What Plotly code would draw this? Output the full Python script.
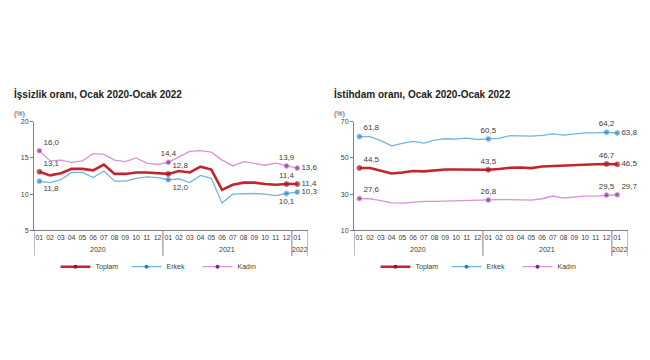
import plotly.graph_objects as go

months = ["01","02","03","04","05","06","07","08","09","10","11","12",
          "01","02","03","04","05","06","07","08","09","10","11","12","01"]
years = ["2020", "2021", "2022"]

# İşsizlik oranı
u_toplam = [13.1,12.6,12.9,13.5,13.5,13.3,14.1,12.8,12.8,13.0,13.0,12.9,
            12.8,13.2,13.0,13.8,13.4,10.6,11.3,11.6,11.6,11.4,11.3,11.4,11.4]
u_erkek = [11.8,11.6,12.0,13.0,13.0,12.3,13.2,11.8,11.8,12.2,12.4,12.3,
           12.0,12.1,11.6,12.6,12.2,8.8,10.0,10.1,10.1,10.0,9.8,10.1,10.3]
u_kadin = [16.0,14.6,14.7,14.4,14.6,15.6,15.5,14.7,14.5,15.0,14.3,14.1,
           14.4,15.2,15.9,16.0,15.8,14.7,13.9,14.5,14.2,14.0,14.3,13.9,13.6]

# İstihdam oranı
e_toplam = [44.5,44.5,43.0,41.4,42.0,42.8,42.6,43.3,43.6,43.6,43.6,43.3,
            43.5,43.9,44.6,44.7,44.4,45.3,45.6,45.8,46.1,46.3,46.5,46.7,46.5]
e_erkek = [61.8,61.8,59.6,56.7,58.0,59.2,58.2,59.9,60.6,60.4,61.0,60.2,
           60.5,60.8,62.3,62.0,62.0,62.5,63.3,62.6,63.2,63.8,63.9,64.2,63.8]
e_kadin = [27.6,27.5,26.5,25.2,25.1,25.7,26.0,26.1,26.3,26.3,26.6,26.7,
           26.8,27.0,27.0,27.0,26.7,27.5,29.0,27.9,28.6,28.9,28.9,29.5,29.7]

labeled = [0, 12, 23, 24]
FONT = "Arial, Liberation Sans, sans-serif"
TXT = "#404040"

C_T, C_TM = "#C0262D", "#A0141C"
C_E, C_EM = "#74B4E2", "#2F7FBF"
C_K, C_KM = "#D993D9", "#7B2D84"

x = list(range(len(months)))

# page has an 8px body margin; figure is sized to fit inside the window
W, H, OFF = 634.0, 344.0, 8.0


def px(p):
    return (p - OFF) / W


def py(p):
    return 1 - (p - OFF) / H


def fmt(v):
    return f"{v:.1f}".replace(".", ",")


def make_trace(vals, lc, mc, lw, pos, xa, ya):
    sizes = [5 if i in labeled else 0 for i in x]
    texts = [fmt(v) if i in labeled else "" for i, v in enumerate(vals)]
    tpos = ["middle center"] * len(vals)
    for i, p in zip(labeled, pos):
        tpos[i] = p
    return go.Scatter(
        x=x, y=vals, mode="lines+markers+text", showlegend=False,
        line=dict(color=lc, width=lw),
        marker=dict(color=mc, size=sizes, symbol="circle"),
        text=texts, textposition=tpos,
        textfont=dict(family=FONT, size=8, color=TXT),
        xaxis=xa, yaxis=ya, cliponaxis=False,
    )


def legend_trace(name, lc, mc, lw, xa, ya, leg):
    return go.Scatter(x=[None], y=[None], name=name, mode="lines+markers",
                      line=dict(color=lc, width=lw), marker=dict(color=mc, size=4),
                      xaxis=xa, yaxis=ya, legend=leg, showlegend=True)


fig = go.Figure()
fig.add_trace(make_trace(u_toplam, C_T, C_TM, 2.6,
                         ["top right", "top right", "top center", "middle right"], "x", "y"))
fig.add_trace(make_trace(u_erkek, C_E, C_EM, 1.3,
                         ["bottom right", "bottom right", "bottom center", "middle right"], "x", "y"))
fig.add_trace(make_trace(u_kadin, C_K, C_KM, 1.3,
                         ["top right", "top center", "top center", "middle right"], "x", "y"))

fig.add_trace(make_trace(e_toplam, C_T, C_TM, 2.6,
                         ["top right", "top center", "top center", "middle right"], "x2", "y2"))
fig.add_trace(make_trace(e_erkek, C_E, C_EM, 1.3,
                         ["top right", "top center", "top center", "middle right"], "x2", "y2"))
fig.add_trace(make_trace(e_kadin, C_K, C_KM, 1.3,
                         ["top right", "top center", "top center", "top right"], "x2", "y2"))

for xa, ya, leg in (("x", "y", "legend"), ("x2", "y2", "legend2")):
    fig.add_trace(legend_trace("Toplam", C_T, C_TM, 2.6, xa, ya, leg))
    fig.add_trace(legend_trace("Erkek", C_E, C_EM, 1.3, xa, ya, leg))
    fig.add_trace(legend_trace("Kadın", C_K, C_KM, 1.3, xa, ya, leg))

ybot = py(231)
ytop = py(120)

xcommon = dict(
    range=[-0.5, 25], tickmode="array", tickvals=x, ticktext=months,
    showline=True, linecolor="#808080", linewidth=1, ticks="",
    showgrid=False, zeroline=False,
    tickfont=dict(family=FONT, size=7, color=TXT), fixedrange=True,
)
ycommon = dict(
    showline=True, linecolor="#808080", linewidth=1, ticks="outside",
    ticklen=3, tickcolor="#808080", showgrid=False, zeroline=False,
    tickfont=dict(family=FONT, size=7, color=TXT), fixedrange=True,
)

legcommon = dict(orientation="h", yanchor="middle", xanchor="center",
                 font=dict(family=FONT, size=7, color=TXT),
                 itemwidth=30, entrywidth=26, entrywidthmode="pixels",
                 bgcolor="rgba(0,0,0,0)", tracegroupgap=0)

fig.update_layout(
    width=W, height=H, margin=dict(l=0, r=0, t=0, b=0),
    paper_bgcolor="white", plot_bgcolor="white",
    xaxis=dict(domain=[px(34), px(308)], anchor="y", **xcommon),
    yaxis=dict(domain=[ybot, ytop], anchor="x", range=[5, 20],
               tickvals=[5, 10, 15, 20], **ycommon),
    xaxis2=dict(domain=[px(354), px(628)], anchor="y2", **xcommon),
    yaxis2=dict(domain=[ybot, ytop], anchor="x2", range=[10, 70],
                tickvals=[10, 30, 50, 70], **ycommon),
    legend=dict(x=px(162), y=py(268), **legcommon),
    legend2=dict(x=px(482), y=py(268), **legcommon),
    showlegend=True,
)

# titles
for title, xp in (("İşsizlik oranı, Ocak 2020-Ocak 2022", 12),
                  ("İstihdam oranı, Ocak 2020-Ocak 2022", 332)):
    fig.add_annotation(text=f"<b>{title}</b>", xref="paper", yref="paper",
                       x=px(xp), y=py(92), xanchor="left", yanchor="middle", showarrow=False,
                       font=dict(family=FONT, size=10, color="#222222"))
    fig.add_annotation(text="(%)", xref="paper", yref="paper", x=px(xp), y=py(112),
                       xanchor="left", yanchor="middle", showarrow=False,
                       font=dict(family=FONT, size=7, color=TXT))

# year labels and separators
year_centers = [5.5, 17.5, 24.25]
seps = [-0.5, 11.5, 23.5, 25]
for xa in ("x", "x2"):
    for yr, xc in zip(years, year_centers):
        fig.add_annotation(text=yr, xref=xa, yref="paper", x=xc, y=py(250),
                           xanchor="center", yanchor="middle", showarrow=False,
                           font=dict(family=FONT, size=7, color=TXT))
    for s in seps:
        fig.add_shape(type="line", xref=xa, yref="paper", x0=s, x1=s,
                      y0=py(257), y1=ybot, line=dict(color="#808080", width=1))

fig.write_html("out.html")
